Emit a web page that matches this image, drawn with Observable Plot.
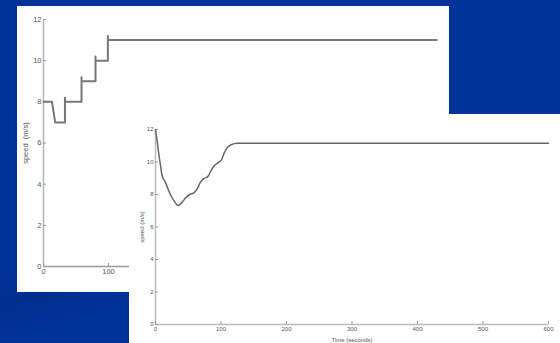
<!DOCTYPE html>
<html><head><meta charset="utf-8">
<script src="https://cdn.jsdelivr.net/npm/d3@7"></script>
<script src="https://cdn.jsdelivr.net/npm/@observablehq/plot@0.6"></script>
<style>
html,body{margin:0;padding:0;}
body{width:560px;height:343px;overflow:hidden;position:relative;background:#003399;}
#bg{position:absolute;left:0;top:0;width:560px;height:343px;background:linear-gradient(165deg,#003399 0%,#003399 55%,#002f8f 62%,#003399 70%,#003399 100%);}
#p1{position:absolute;left:17px;top:6px;width:432px;height:286px;background:#fff;}
#p2{position:absolute;left:129px;top:114px;width:431px;height:229px;background:#fff;}
svg{display:block;}
</style></head><body>
<div id="bg"></div>
<div id="p1"></div><div id="p2"></div>
<script>
// Panel 1: stepped speed profile
const stepTime  = [0, 13, 18, 33, 33, 33, 58.5, 58.5, 58.5, 80, 80, 80, 99, 99, 99, 605];
const stepSpeed = [8, 8, 7, 7, 8.2, 8, 8, 9.2, 9, 9, 10.2, 10, 10, 11.2, 11, 11];
// Panel 2: smooth speed response
const curveTime  = [0, 2.5, 5, 7.6, 10, 15, 20, 25.4, 30.5, 34.6, 40.7, 45.8, 52.4, 58.5, 63.6, 68.7, 73.8, 79.9, 85, 90, 96.7, 100.8, 104.3, 109.4, 115.5, 124.7, 600];
const curveSpeed = [12, 11.3, 10.5, 9.8, 9.17, 8.76, 8.25, 7.8, 7.47, 7.32, 7.53, 7.78, 8.0, 8.1, 8.35, 8.76, 8.97, 9.1, 9.48, 9.78, 9.99, 10.13, 10.5, 10.87, 11.06, 11.15, 11.15];
const xTicks = [0, 100, 200, 300, 400, 500, 600];
const yTicks = [0, 2, 4, 6, 8, 10, 12];
const yLabel1 = "speed  (m/s)";
const yLabel2 = "speed (m/s)";
const xLabel2 = "Time (seconds)";

const steps = stepTime.map((t, i) => ({t, v: stepSpeed[i]}));
const curve = curveTime.map((t, i) => ({t, v: curveSpeed[i]}));
const font = "'Liberation Sans', Arial, sans-serif";

const p1 = Plot.plot({
  width: 432, height: 286,
  marginLeft: 26, marginTop: 13, marginBottom: 26, marginRight: 16,
  style: {background: "transparent", fontFamily: font, fontSize: "7.5px", color: "#555"},
  x: {domain: [0, 600], label: null},
  y: {domain: [0, 12], label: null},
  marks: [
    Plot.ruleX([0], {stroke: "#b5b5b5", strokeWidth: 1.5}),
    Plot.ruleY([0], {stroke: "#999", strokeWidth: 1.5}),
    Plot.axisX(xTicks, {tickSize: -3, tickPadding: 5, label: null, stroke: "#999"}),
    Plot.axisY(yTicks, {tickSize: -3, tickPadding: 5, label: yLabel1, labelAnchor: "center", labelArrow: "none", labelOffset: 21, stroke: "#999"}),
    Plot.line(steps, {x: "t", y: "v", stroke: "#777", strokeWidth: 2})
  ]
});
document.getElementById("p1").appendChild(p1);

const p2 = Plot.plot({
  width: 431, height: 229,
  marginLeft: 26, marginTop: 15, marginBottom: 19, marginRight: 12,
  style: {background: "transparent", fontFamily: font, fontSize: "6px", color: "#555"},
  x: {domain: [0, 600], label: null},
  y: {domain: [0, 12], label: null},
  marks: [
    Plot.ruleX([0], {stroke: "#bbb", strokeWidth: 1.5}),
    Plot.ruleY([0], {stroke: "#bbb", strokeWidth: 1.5}),
    Plot.axisX(xTicks, {tickSize: -3, tickPadding: 5, label: xLabel2, labelAnchor: "center", labelArrow: "none", labelOffset: 17, stroke: "#999"}),
    Plot.axisY(yTicks, {tickSize: -3, tickPadding: 5, label: yLabel2, labelAnchor: "center", labelArrow: "none", labelOffset: 16, stroke: "#999"}),
    Plot.line(curve, {x: "t", y: "v", stroke: "#666", strokeWidth: 1.5, curve: "monotone-x"})
  ]
});
document.getElementById("p2").appendChild(p2);
</script>
</body></html>
